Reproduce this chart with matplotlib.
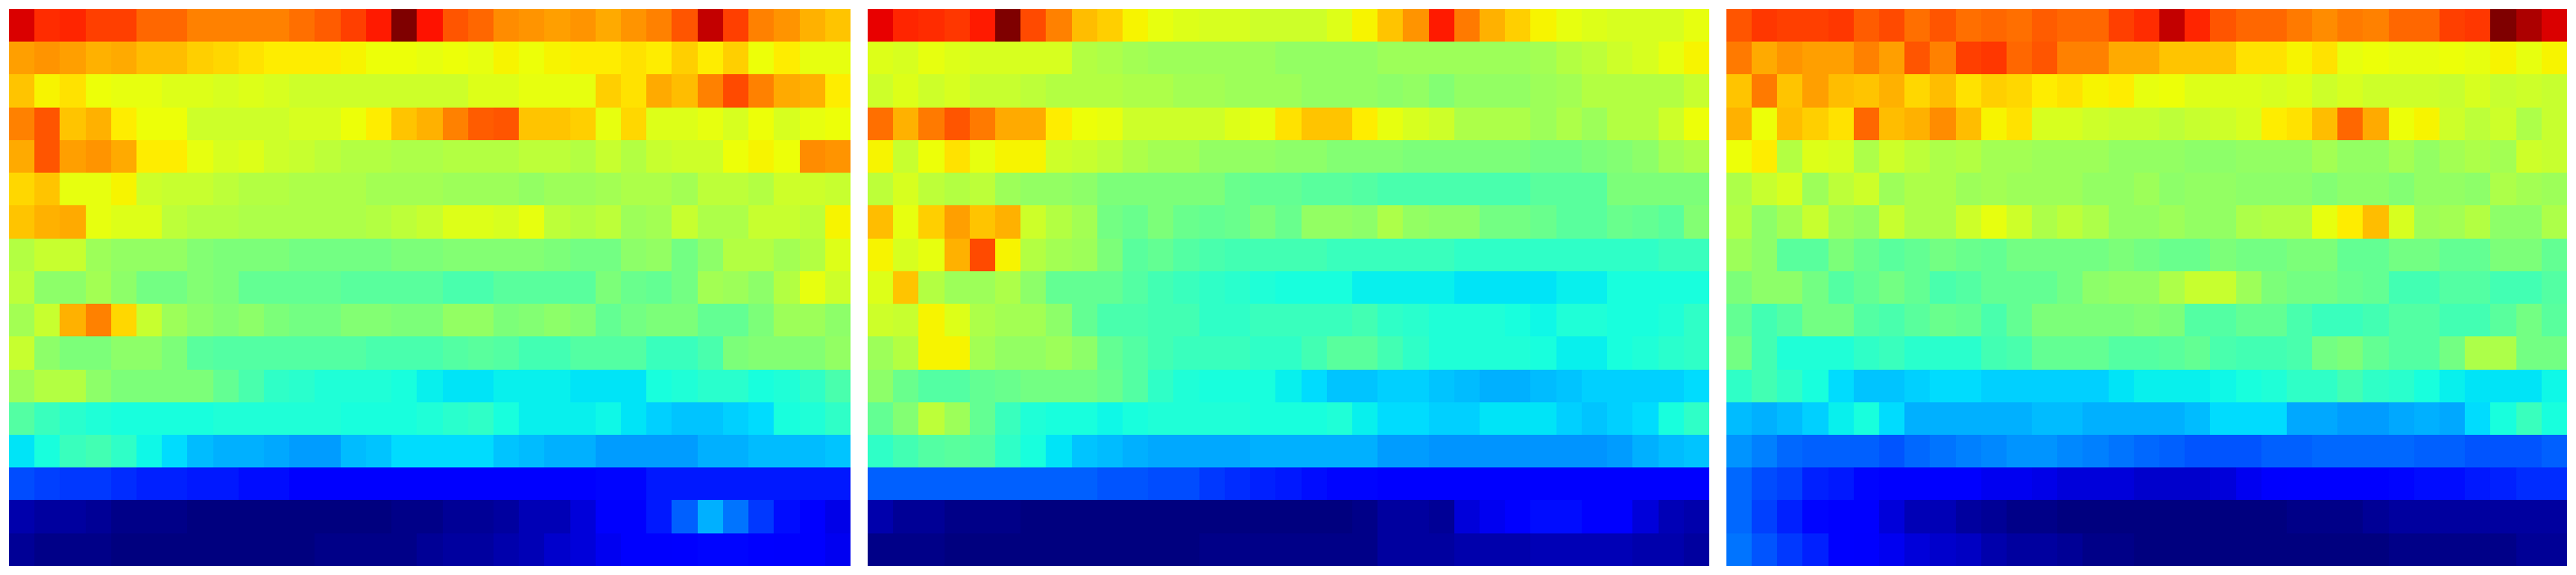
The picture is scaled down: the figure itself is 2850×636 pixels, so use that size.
import numpy as np
import matplotlib
matplotlib.use("Agg")
import matplotlib.pyplot as plt

panel_a = [
[92,86,87,84,84,80,80,77,77,77,77,79,81,84,88,100,89,82,80,76,75,74,75,73,75,77,82,94,84,77,75,72,70],
[74,75,74,72,73,71,71,69,68,67,66,66,66,65,64,64,63,64,63,65,64,65,66,66,67,66,69,66,69,64,66,63,63],
[70,65,67,64,63,63,62,62,61,62,61,60,60,60,60,60,60,60,62,62,63,63,63,69,67,73,71,77,83,77,73,72,66],
[77,82,70,72,66,64,64,60,60,60,60,61,61,64,66,70,72,77,81,82,70,70,69,63,68,62,62,63,61,64,61,63,64],
[73,82,74,75,73,66,66,63,61,62,60,59,58,57,57,56,56,57,57,57,58,58,57,59,57,59,60,60,64,65,64,76,75],
[68,70,63,63,65,60,59,59,58,57,57,56,56,56,55,55,55,54,54,54,53,54,54,55,56,56,55,58,58,57,60,60,59],
[70,72,73,63,62,62,58,57,57,56,56,56,56,56,57,58,59,62,62,61,63,58,57,58,54,55,59,56,56,59,59,58,65],
[57,59,59,54,53,53,53,51,50,50,50,49,49,49,49,50,50,51,51,51,51,50,49,49,52,53,49,52,57,57,55,57,62],
[58,52,52,55,52,49,49,51,50,47,47,47,47,46,46,46,46,44,44,46,46,46,46,50,48,47,49,55,54,52,57,63,60],
[55,59,72,77,68,59,54,52,51,52,50,49,49,51,51,50,50,53,53,50,51,52,51,47,49,50,50,47,47,50,54,54,52],
[59,52,50,50,52,52,50,46,45,45,45,45,45,45,44,44,44,45,46,45,43,43,45,45,45,42,42,44,50,51,51,51,53],
[54,57,57,52,50,50,50,50,47,44,41,40,39,39,39,38,36,35,35,36,36,36,35,35,35,38,39,40,40,38,39,41,44],
[45,42,40,39,38,38,38,38,39,39,39,39,39,38,38,38,39,40,41,38,36,36,36,37,35,33,32,32,33,34,38,39,41],
[35,38,42,43,41,37,34,31,30,30,29,28,28,31,32,34,34,34,34,32,31,30,30,28,28,28,28,30,30,31,31,31,32],
[20,19,18,18,17,16,16,15,15,14,14,12,12,12,12,12,12,12,12,12,12,12,12,13,13,15,15,15,15,15,15,15,15],
[4,3,3,2,1,1,1,0,0,0,0,0,0,0,0,1,1,2,2,3,5,5,8,11,11,15,22,30,24,18,14,12,9],
[2,1,1,1,0,0,0,0,0,0,0,0,1,1,1,1,2,3,3,4,5,7,8,10,11,11,12,13,13,12,11,11,10],
]

panel_b = [
[91,87,86,85,88,100,83,77,71,69,65,63,62,61,61,60,60,60,62,65,70,75,88,78,72,69,65,63,62,61,61,61,63],
[62,61,63,62,61,61,61,61,57,56,55,54,54,54,54,54,53,53,53,53,54,54,54,54,54,54,55,57,58,60,61,63,65],
[60,62,60,61,59,59,58,57,57,57,56,56,55,55,54,54,54,53,53,53,52,53,51,53,53,53,54,55,57,57,57,57,59],
[79,72,78,82,78,73,73,66,64,63,60,60,60,60,62,63,67,70,70,66,63,61,60,56,56,56,54,56,54,57,57,60,64],
[65,59,64,67,63,65,65,60,59,58,56,55,55,53,53,53,52,52,51,51,51,50,50,50,50,50,49,49,50,51,52,55,56],
[58,61,58,57,58,54,53,53,52,50,50,50,50,50,48,47,47,46,46,45,44,44,44,44,44,44,46,46,46,50,50,50,50],
[71,63,69,74,70,72,60,57,55,49,48,50,48,47,48,50,48,53,53,52,56,53,52,52,49,49,48,46,46,48,47,46,51],
[65,61,63,72,83,65,57,55,54,50,46,47,45,44,43,43,43,43,42,42,42,42,42,41,41,41,41,41,41,41,41,42,42],
[62,70,57,54,54,56,52,47,47,47,45,43,42,41,40,39,38,38,38,36,36,36,36,35,35,35,35,36,36,38,38,38,38],
[60,59,65,62,56,55,55,52,47,44,44,43,43,41,41,42,42,42,42,43,41,40,39,39,39,38,37,39,39,38,38,39,41],
[54,57,65,65,55,53,53,54,52,47,45,43,42,42,42,41,41,43,46,46,43,41,39,39,39,39,38,36,36,38,39,40,41],
[52,48,45,45,47,48,49,49,49,48,45,41,39,38,38,38,36,34,32,32,33,33,32,31,30,30,31,32,33,33,33,33,34],
[47,51,58,54,47,42,39,38,38,37,38,39,39,39,39,38,38,38,39,36,34,34,33,33,35,35,35,33,32,33,34,38,41],
[41,43,45,46,45,41,38,35,32,31,30,29,29,29,29,30,30,30,30,30,28,28,27,27,27,27,27,27,27,28,30,31,32],
[22,22,22,22,22,22,22,22,22,21,21,20,20,18,17,16,15,14,13,13,12,12,12,12,12,12,12,12,12,12,12,12,12],
[4,2,2,1,1,1,0,0,0,0,0,0,0,0,0,0,0,0,0,1,3,3,2,8,10,12,14,14,12,12,8,5,4],
[1,1,1,0,0,0,0,0,0,0,0,0,0,1,1,1,1,1,1,1,3,3,3,4,4,4,5,5,5,5,4,4,3],
]

panel_c = [
[82,85,84,84,85,81,83,79,82,79,80,79,81,80,80,84,86,94,87,82,80,80,78,76,78,77,80,80,84,85,100,96,92],
[78,73,75,74,74,77,74,82,77,84,85,80,82,77,77,73,73,70,70,70,67,67,65,67,63,64,63,63,64,63,65,63,65],
[70,78,70,74,71,70,72,68,71,67,69,68,66,67,65,66,63,64,62,62,62,61,62,60,61,60,60,60,59,61,59,60,59],
[72,64,71,69,67,80,71,72,76,71,65,67,61,61,60,59,59,58,59,60,61,66,67,71,80,73,64,65,60,58,60,56,59],
[64,66,57,62,61,56,60,58,56,57,55,55,54,54,54,53,53,53,52,52,53,53,53,55,53,53,55,53,55,56,55,60,59],
[56,59,61,54,58,60,54,56,56,54,55,54,54,54,53,53,54,52,53,53,52,52,52,51,52,52,51,53,53,52,56,55,54],
[57,52,55,59,54,53,59,56,56,60,63,60,56,58,56,53,53,54,53,53,56,57,57,63,66,71,61,54,55,57,52,52,56],
[54,52,46,46,50,48,46,47,49,48,47,49,49,49,49,50,49,48,48,50,49,49,50,50,47,47,49,49,47,47,50,50,47],
[50,52,52,49,45,47,49,47,44,45,47,47,47,49,52,53,53,56,59,59,54,50,49,49,48,47,43,43,45,45,43,43,45],
[47,43,45,49,49,45,44,46,48,47,44,47,50,50,50,50,51,50,45,45,47,47,44,42,42,43,45,45,43,43,46,49,46],
[49,43,39,39,39,41,42,40,40,40,43,44,47,47,47,45,45,46,47,44,43,43,44,49,50,47,45,45,49,56,56,49,49],
[41,43,41,38,34,32,32,33,34,34,33,33,33,33,33,35,36,36,36,37,38,39,41,41,43,41,40,38,36,35,35,35,37],
[31,30,31,33,36,38,34,30,30,30,30,30,31,31,30,30,30,30,31,34,34,34,29,29,28,28,29,30,29,34,38,42,38],
[27,25,23,22,22,22,21,23,24,25,26,27,27,26,25,24,23,22,21,21,21,22,22,23,23,23,23,22,22,21,21,21,22],
[23,20,19,16,15,13,12,12,12,12,10,10,9,8,8,8,7,7,7,8,10,11,12,12,12,12,13,14,14,15,16,17,17],
[23,19,16,13,12,12,8,5,5,3,2,1,1,0,0,0,0,0,0,0,0,0,1,1,1,2,3,3,3,3,3,3,3],
[24,21,18,16,12,11,10,8,7,6,4,3,3,2,1,1,0,0,0,0,0,0,0,0,0,0,1,1,1,1,1,2,2],
]

panels = [panel_a, panel_b, panel_c]
FIG_W, FIG_H = 2850, 636
LEFTS = [10, 960, 1910]
PANEL_W = 930
TOP, BOTTOM = 10, 626

fig = plt.figure(figsize=(FIG_W / 100, FIG_H / 100), dpi=100, facecolor="white")
for left, values in zip(LEFTS, panels):
    ax = fig.add_axes([left / FIG_W, 1 - BOTTOM / FIG_H, PANEL_W / FIG_W, (BOTTOM - TOP) / FIG_H])
    ax.imshow(np.array(values, dtype=float), cmap="jet", vmin=0, vmax=100,
              aspect="auto", interpolation="nearest")
    ax.axis("off")

fig.savefig("out.png", dpi=100, facecolor="white")
